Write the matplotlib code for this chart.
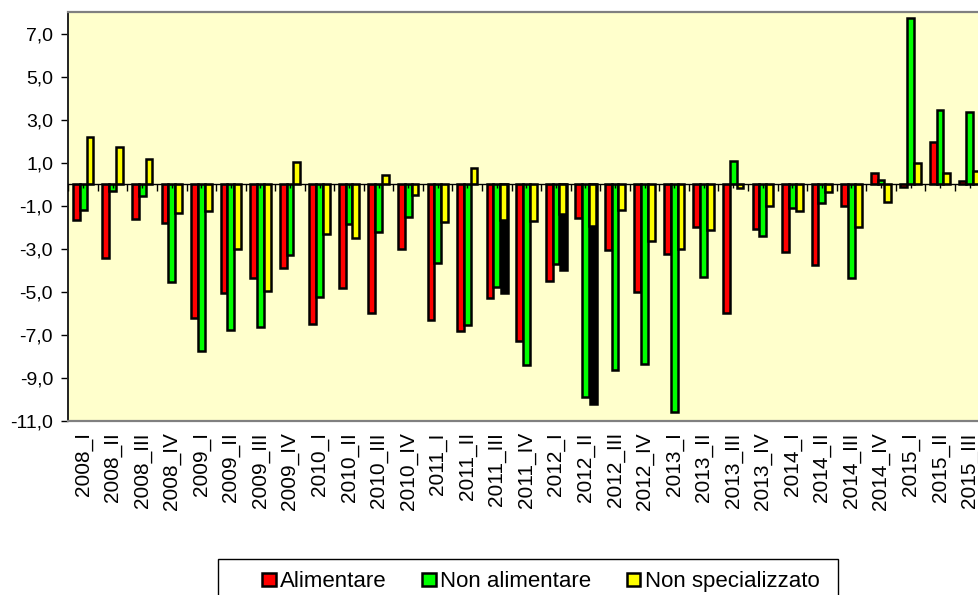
import numpy as np
import matplotlib.pyplot as plt
from matplotlib.patches import Rectangle
from matplotlib.ticker import FuncFormatter

plt.rcParams['font.family'] = ['Liberation Sans', 'DejaVu Sans']

# quarters 2008_I .. 2015_III
trimestri = ['2008_I', '2008_II', '2008_III', '2008_IV',
             '2009_I', '2009_II', '2009_III', '2009_IV',
             '2010_I', '2010_II', '2010_III', '2010_IV',
             '2011_I', '2011_II', '2011_III', '2011_IV',
             '2012_I', '2012_II', '2012_III', '2012_IV',
             '2013_I', '2013_II', '2013_III', '2013_IV',
             '2014_I', '2014_II', '2014_III', '2014_IV',
             '2015_I', '2015_II', '2015_III']

alimentare = [-1.65, -3.4, -1.6, -1.8, -6.2, -5.05, -4.35, -3.9,
              -6.5, -4.8, -6.0, -3.0, -6.3, -6.8, -5.3, -7.3,
              -4.5, -1.55, -3.05, -5.0, -3.25, -2.0, -6.0, -2.05,
              -3.15, -3.75, -1.0, 0.55, -0.1, 1.95, 0.15]
non_alimentare = [-1.2, -0.3, -0.55, -4.55, -7.75, -6.75, -6.65, -3.3,
                  -5.25, -1.85, -2.2, -1.5, -3.65, -6.55, -4.75, -8.4,
                  -3.7, -9.9, -8.65, -8.35, -10.6, -4.3, 1.1, -2.4,
                  -1.1, -0.85, -4.35, 0.22, 7.75, 3.45, 3.35]
non_specializzato = [2.2, 1.75, 1.2, -1.35, -1.25, -3.0, -4.95, 1.05,
                     -2.3, -2.5, 0.45, -0.5, -1.75, 0.78, -1.65, -1.68,
                     -1.38, -1.95, -1.2, -2.65, -3.0, -2.1, -0.18, -1.0,
                     -1.25, -0.33, -2.0, -0.8, 1.0, 0.55, 0.6]
# black "shadow" bars visible behind some yellow bars in the original
ombra = [np.nan] * 14 + [-5.05, np.nan, -4.0, -10.2] + [np.nan] * 13

y_ticks = np.arange(-11, 8, 2)

x = np.arange(len(trimestri))
w = 0.23

fig = plt.figure(figsize=(9.79, 5.95), dpi=100)
ax = fig.add_axes([0.0698, 0.2924, 0.9357, 0.6869])
ax.set_facecolor('#FFFFCC')

ax.bar(x + w + 0.04, ombra, w, color='black', edgecolor='black', lw=1.8, zorder=1)
b1 = ax.bar(x - w, alimentare, w, color='#FF0000', edgecolor='black', lw=1.8,
            label='Alimentare', zorder=2)
b2 = ax.bar(x, non_alimentare, w, color='#00FF00', edgecolor='black', lw=1.8,
            label='Non alimentare', zorder=2)
b3 = ax.bar(x + w, non_specializzato, w, color='#FFFF00', edgecolor='black', lw=1.8,
            label='Non specializzato', zorder=2)

# zero line with category ticks
ax.axhline(0, color='black', lw=1, zorder=3)
ax.plot(np.arange(len(x) + 1) - 0.5, np.zeros(len(x) + 1), ls='none',
        marker=3, ms=5, mew=1, color='black', zorder=4)
ax.plot(x, np.zeros(len(x)), ls='none', marker=3, ms=3, mew=1,
        color='black', zorder=4)

ax.set_xlim(-0.5, len(x) - 0.5)
ax.set_ylim(-11, 8)
ax.set_yticks(y_ticks)
ax.yaxis.set_major_formatter(FuncFormatter(lambda v, p: f'{v:.1f}'.replace('.', ',')))
ax.tick_params(axis='y', length=5, width=1, pad=6, labelsize=14, colors='black')

ax.set_xticks(x)
ax.set_xticklabels(trimestri, rotation=90, fontsize=15, va='top', ha='center')
ax.tick_params(axis='x', length=0, pad=8)

for s in ['top', 'bottom', 'right']:
    ax.spines[s].set_color('#808080')
    ax.spines[s].set_linewidth(1.6)
ax.spines['left'].set_color('#222222')
ax.spines['left'].set_linewidth(1.4)

fig.patches.append(Rectangle((0.2227, -0.05), 0.6333, 0.1105, transform=fig.transFigure,
                             fill=False, edgecolor='black', lw=1))
fig.legend(handles=[b1, b2, b3], loc='upper left', bbox_to_anchor=(0.268, 0.04),
           ncol=3, frameon=False, fontsize=16, handlelength=0.6, handleheight=0.5,
           handletextpad=0.2, columnspacing=1.6, borderpad=0, borderaxespad=0)

fig.savefig('out.png', dpi=100)
